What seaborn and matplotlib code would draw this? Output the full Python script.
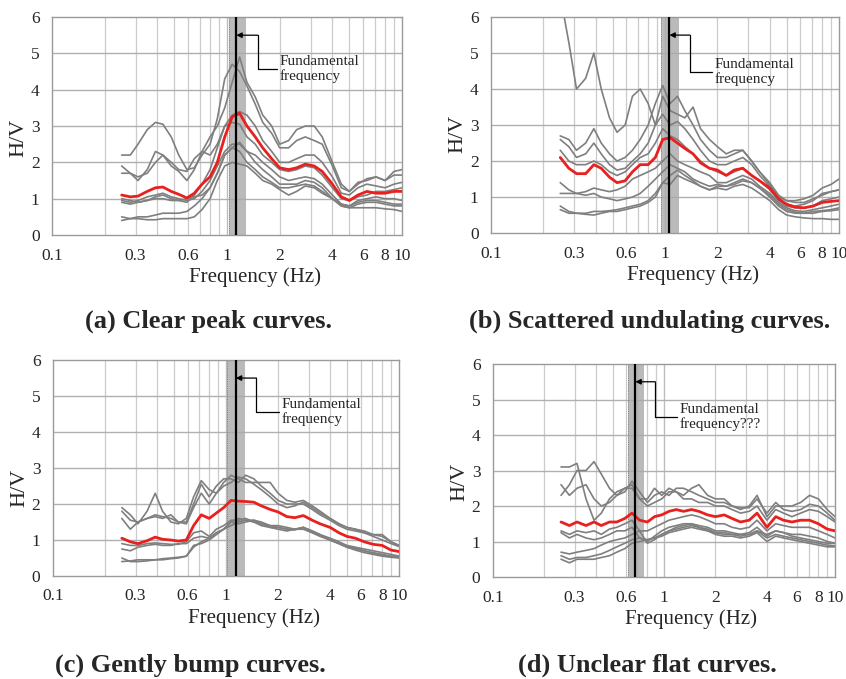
import numpy as np
import pandas as pd
import matplotlib
matplotlib.use("Agg")
import matplotlib.pyplot as plt
import seaborn as sns

sns.set_style("white")
plt.rcParams['font.family'] = ['Liberation Serif', 'DejaVu Serif']

freq = [0.25, 0.28, 0.31, 0.35, 0.39, 0.43, 0.48, 0.53, 0.59, 0.65, 0.72, 0.8, 0.88, 0.97,
        1.07, 1.18, 1.3, 1.45, 1.6, 1.8, 2.0, 2.25, 2.5, 2.8, 3.15, 3.5, 4.0, 4.5, 5.0, 5.6,
        6.3, 7.1, 8.0, 9.0, 10.0]

# ---- Panel (a) Clear peak curves
a_mean = [1.1, 1.05, 1.07, 1.2, 1.3, 1.32, 1.2, 1.12, 1.02, 1.15, 1.4, 1.6, 2.0, 2.7, 3.25, 3.35, 3.0, 2.7, 2.4, 2.1, 1.85, 1.8, 1.85, 1.95, 1.9, 1.75, 1.4, 1.05, 0.95, 1.1, 1.2, 1.15, 1.15, 1.2, 1.2]
a_g1 = [2.2, 2.2, 2.5, 2.9, 3.1, 3.05, 2.7, 2.2, 1.8, 1.85, 2.2, 2.5, 3.2, 4.3, 4.7, 4.5, 4.1, 3.6, 3.1, 2.8, 2.4, 2.4, 2.6, 2.7, 2.6, 2.5, 1.9, 1.3, 1.2, 1.4, 1.55, 1.6, 1.5, 1.75, 1.8]
a_g2 = [1.9, 1.7, 1.5, 1.8, 2.3, 2.2, 1.9, 1.75, 1.5, 1.8, 2.3, 2.7, 3.0, 3.5, 4.2, 4.9, 4.2, 3.8, 3.3, 3.0, 2.5, 2.6, 2.9, 3.0, 3.0, 2.7, 2.0, 1.4, 1.2, 1.45, 1.5, 1.6, 1.5, 1.65, 1.65]
a_g3 = [1.7, 1.7, 1.6, 1.7, 2.0, 2.2, 2.0, 1.8, 1.75, 2.1, 2.3, 2.2, 2.5, 3.0, 3.1, 3.05, 2.7, 2.5, 2.2, 2.0, 1.8, 1.75, 1.8, 1.9, 1.85, 1.65, 1.3, 1.0, 0.95, 1.05, 1.1, 1.2, 1.2, 1.25, 1.3]
a_g4 = [0.95, 0.9, 0.95, 1.05, 1.1, 1.15, 1.05, 1.0, 0.95, 1.0, 1.2, 1.5, 1.9, 2.3, 2.5, 2.5, 2.3, 2.2, 2.0, 1.8, 1.6, 1.5, 1.55, 1.6, 1.55, 1.4, 1.1, 0.85, 0.8, 0.95, 1.0, 1.05, 1.0, 1.0, 0.95]
a_g5 = [0.9, 0.85, 0.9, 0.95, 1.0, 1.0, 0.95, 0.95, 1.0, 1.05, 1.1, 1.3, 1.7, 2.2, 2.4, 2.55, 2.3, 2.0, 1.8, 1.6, 1.4, 1.4, 1.4, 1.5, 1.45, 1.3, 1.0, 0.8, 0.75, 0.85, 0.9, 0.9, 0.85, 0.8, 0.8]
a_g6 = [0.5, 0.45, 0.5, 0.5, 0.55, 0.6, 0.6, 0.6, 0.65, 0.8, 1.0, 1.3, 1.7, 2.2, 2.4, 2.3, 2.0, 1.8, 1.6, 1.45, 1.3, 1.3, 1.35, 1.4, 1.35, 1.2, 1.0, 0.8, 0.75, 0.75, 0.75, 0.75, 0.72, 0.7, 0.65]
a_g7 = [0.4, 0.45, 0.45, 0.42, 0.42, 0.45, 0.45, 0.45, 0.45, 0.5, 0.7, 1.0, 1.5, 1.9, 2.0, 1.95, 1.9, 1.7, 1.5, 1.4, 1.25, 1.1, 1.2, 1.35, 1.3, 1.15, 1.0, 0.85, 0.8, 0.9, 0.95, 0.95, 0.9, 0.85, 0.85]
a_g8 = [1.0, 0.95, 0.9, 0.95, 1.05, 1.1, 1.0, 0.95, 0.9, 1.1, 1.4, 1.8, 2.4, 3.0, 3.3, 3.4, 3.3, 3.0, 2.6, 2.3, 2.0, 2.0, 2.1, 2.2, 2.2, 2.0, 1.6, 1.15, 1.1, 1.3, 1.4, 1.35, 1.3, 1.4, 1.45]

# ---- Panel (b) Scattered undulating curves
b_mean = [2.1, 1.8, 1.65, 1.65, 1.9, 1.8, 1.55, 1.4, 1.45, 1.7, 1.9, 1.9, 2.1, 2.6, 2.65, 2.5, 2.35, 2.2, 1.95, 1.8, 1.75, 1.6, 1.75, 1.8, 1.6, 1.45, 1.25, 0.95, 0.8, 0.72, 0.7, 0.75, 0.85, 0.88, 0.9]
b_g1 = [6.6, 5.3, 4.0, 4.3, 5.0, 4.0, 3.2, 2.8, 3.0, 3.8, 4.0, 3.6, 3.0, 3.8, 3.4, 3.3, 3.2, 3.5, 2.9, 2.6, 2.4, 2.2, 2.3, 2.3, 2.0, 1.7, 1.35, 1.0, 0.9, 0.85, 0.85, 0.95, 1.05, 1.15, 1.2]
b_g2 = [2.7, 2.6, 2.3, 2.5, 2.9, 2.5, 2.2, 2.0, 2.1, 2.3, 2.6, 3.0, 3.6, 4.1, 3.6, 3.8, 3.4, 3.0, 2.6, 2.3, 2.1, 2.1, 2.2, 2.3, 2.0, 1.7, 1.4, 1.05, 0.9, 0.9, 0.95, 1.05, 1.25, 1.35, 1.5]
b_g3 = [2.6, 2.4, 2.1, 2.2, 2.5, 2.2, 1.9, 1.75, 1.8, 2.0, 2.2, 2.5, 3.0, 3.3, 3.0, 3.1, 2.9, 2.6, 2.3, 2.0, 1.9, 1.9, 2.0, 2.1, 1.9, 1.6, 1.3, 0.95, 0.8, 0.75, 0.8, 0.9, 1.1, 1.15, 1.2]
b_g4 = [2.3, 2.0, 1.9, 1.9, 2.0, 1.9, 1.7, 1.6, 1.7, 1.9, 2.1, 2.2, 2.5, 2.9, 2.7, 2.6, 2.4, 2.2, 2.0, 1.8, 1.7, 1.6, 1.7, 1.8, 1.6, 1.45, 1.2, 0.9, 0.75, 0.7, 0.7, 0.75, 0.9, 0.95, 1.0]
b_g5 = [1.4, 1.2, 1.1, 1.15, 1.25, 1.2, 1.15, 1.2, 1.3, 1.5, 1.6, 1.7, 1.8, 2.0, 2.2, 2.0, 1.9, 1.8, 1.7, 1.6, 1.4, 1.4, 1.5, 1.6, 1.5, 1.3, 1.1, 0.85, 0.7, 0.62, 0.6, 0.65, 0.7, 0.75, 0.8]
b_g6 = [1.1, 1.1, 1.1, 1.05, 1.1, 1.0, 0.95, 0.9, 0.95, 1.0, 1.1, 1.3, 1.5, 1.7, 1.9, 1.8, 1.7, 1.5, 1.4, 1.3, 1.35, 1.3, 1.35, 1.45, 1.4, 1.25, 1.05, 0.8, 0.65, 0.58, 0.55, 0.6, 0.62, 0.65, 0.7]
b_g7 = [0.75, 0.6, 0.55, 0.55, 0.6, 0.6, 0.62, 0.65, 0.7, 0.75, 0.8, 0.9, 1.1, 1.4, 1.6, 1.75, 1.6, 1.45, 1.3, 1.2, 1.3, 1.3, 1.4, 1.5, 1.4, 1.25, 1.0, 0.75, 0.6, 0.55, 0.55, 0.55, 0.6, 0.62, 0.65]
b_g8 = [0.65, 0.55, 0.55, 0.52, 0.5, 0.55, 0.6, 0.6, 0.65, 0.7, 0.75, 0.85, 1.0, 1.4, 1.35, 1.6, 1.5, 1.4, 1.3, 1.2, 1.25, 1.2, 1.3, 1.35, 1.25, 1.1, 0.9, 0.65, 0.5, 0.45, 0.42, 0.4, 0.4, 0.38, 0.38]

# ---- Panel (c) Gently bump curves
c_mean = [1.05, 0.95, 0.9, 0.98, 1.08, 1.02, 1.0, 0.97, 1.0, 1.4, 1.7, 1.6, 1.75, 1.9, 2.1, 2.08, 2.07, 2.05, 1.95, 1.85, 1.78, 1.65, 1.62, 1.68, 1.55, 1.45, 1.35, 1.2, 1.1, 1.05, 0.95, 0.88, 0.85, 0.72, 0.68]
c_g1 = [1.9, 1.7, 1.45, 1.8, 2.3, 1.8, 1.5, 1.45, 1.6, 2.2, 2.65, 2.4, 2.3, 2.6, 2.8, 2.7, 2.6, 2.6, 2.6, 2.6, 2.3, 2.1, 2.05, 2.1, 1.95, 1.8, 1.6, 1.45, 1.35, 1.3, 1.25, 1.15, 1.15, 0.95, 0.85]
c_g2 = [1.8, 1.55, 1.5, 1.6, 1.65, 1.6, 1.7, 1.5, 1.5, 2.0, 2.55, 2.2, 2.5, 2.7, 2.7, 2.6, 2.8, 2.7, 2.5, 2.3, 2.1, 2.0, 2.0, 2.0, 1.85, 1.7, 1.55, 1.4, 1.3, 1.25, 1.2, 1.1, 1.0, 0.9, 0.82]
c_g3 = [1.6, 1.3, 1.5, 1.6, 1.7, 1.65, 1.6, 1.5, 1.45, 1.9, 2.3, 2.0, 2.3, 2.5, 2.6, 2.75, 2.7, 2.55, 2.4, 2.2, 2.0, 1.9, 1.95, 2.05, 1.9, 1.75, 1.6, 1.45, 1.35, 1.3, 1.2, 1.15, 1.1, 0.95, 0.85]
c_g4 = [0.9, 0.85, 0.85, 0.9, 0.92, 0.9, 0.88, 0.88, 0.95, 1.2, 1.25, 1.1, 1.3, 1.4, 1.55, 1.55, 1.6, 1.5, 1.45, 1.4, 1.4, 1.35, 1.3, 1.35, 1.25, 1.15, 1.05, 0.95, 0.85, 0.8, 0.75, 0.7, 0.65, 0.6, 0.55]
c_g5 = [0.75, 0.7, 0.8, 0.85, 0.88, 0.85, 0.85, 0.9, 0.9, 1.05, 1.1, 1.05, 1.2, 1.3, 1.5, 1.45, 1.5, 1.55, 1.45, 1.35, 1.35, 1.3, 1.28, 1.35, 1.22, 1.12, 1.0, 0.9, 0.8, 0.75, 0.7, 0.65, 0.6, 0.55, 0.52]
c_g6 = [0.5, 0.4, 0.4, 0.42, 0.45, 0.45, 0.48, 0.5, 0.55, 0.8, 0.95, 1.05, 1.2, 1.3, 1.5, 1.6, 1.55, 1.5, 1.4, 1.35, 1.3, 1.25, 1.3, 1.35, 1.25, 1.15, 1.0, 0.9, 0.8, 0.72, 0.65, 0.6, 0.55, 0.52, 0.5]
c_g7 = [0.4, 0.42, 0.45, 0.45, 0.45, 0.48, 0.5, 0.52, 0.55, 0.85, 0.9, 1.0, 1.15, 1.3, 1.4, 1.5, 1.55, 1.55, 1.5, 1.4, 1.35, 1.3, 1.3, 1.3, 1.2, 1.1, 1.0, 0.9, 0.82, 0.78, 0.7, 0.62, 0.58, 0.55, 0.55]

# ---- Panel (d) Unclear flat curves
d_mean = [1.55, 1.45, 1.55, 1.45, 1.55, 1.45, 1.55, 1.55, 1.65, 1.8, 1.6, 1.55, 1.7, 1.75, 1.85, 1.9, 1.85, 1.9, 1.85, 1.75, 1.7, 1.75, 1.65, 1.55, 1.6, 1.8, 1.4, 1.7, 1.6, 1.55, 1.6, 1.6, 1.5, 1.35, 1.3]
d_g1 = [3.1, 3.1, 3.2, 2.2, 1.6, 1.8, 2.2, 2.4, 2.5, 2.6, 2.2, 2.2, 2.5, 2.3, 2.5, 2.4, 2.3, 2.5, 2.6, 2.3, 2.2, 2.2, 2.0, 1.9, 2.0, 2.3, 1.7, 2.0, 2.0, 2.0, 2.1, 2.3, 2.2, 1.9, 1.7]
d_g2 = [2.3, 2.6, 3.0, 3.0, 3.25, 2.9, 2.5, 2.3, 2.4, 2.7, 2.4, 2.1, 2.3, 2.4, 2.3, 2.5, 2.5, 2.4, 2.3, 2.2, 2.1, 2.1, 2.0, 1.95, 1.95, 2.2, 1.8, 2.1, 1.9, 1.85, 1.9, 2.05, 2.0, 1.8, 1.6]
d_g3 = [2.6, 2.3, 2.5, 2.6, 2.2, 2.0, 2.1, 2.3, 2.5, 2.5, 2.2, 2.0, 2.1, 2.2, 2.4, 2.4, 2.2, 2.2, 2.1, 2.1, 2.0, 2.0, 1.9, 1.8, 1.85, 2.0, 1.6, 1.9, 1.8, 1.7, 1.8, 1.9, 1.85, 1.7, 1.55]
d_g4 = [1.3, 1.2, 1.3, 1.25, 1.3, 1.2, 1.35, 1.4, 1.5, 1.6, 1.3, 1.3, 1.4, 1.5, 1.6, 1.65, 1.7, 1.75, 1.7, 1.6, 1.5, 1.5, 1.4, 1.35, 1.4, 1.6, 1.3, 1.5, 1.45, 1.4, 1.4, 1.4, 1.3, 1.2, 1.1]
d_g5 = [1.25, 1.1, 1.2, 1.1, 1.05, 1.1, 1.2, 1.3, 1.3, 1.4, 1.1, 1.0, 1.15, 1.3, 1.4, 1.45, 1.5, 1.5, 1.45, 1.4, 1.3, 1.3, 1.25, 1.2, 1.25, 1.4, 1.15, 1.3, 1.25, 1.2, 1.2, 1.15, 1.1, 1.0, 0.95]
d_g6 = [0.7, 0.65, 0.7, 0.75, 0.8, 0.9, 1.0, 1.05, 1.1, 1.2, 1.3, 0.95, 1.05, 1.2, 1.3, 1.4, 1.45, 1.5, 1.4, 1.35, 1.25, 1.2, 1.2, 1.15, 1.2, 1.3, 1.1, 1.2, 1.15, 1.1, 1.05, 1.0, 0.95, 0.9, 0.88]
d_g7 = [0.6, 0.5, 0.55, 0.55, 0.6, 0.65, 0.75, 0.85, 0.95, 1.05, 1.1, 1.05, 1.1, 1.2, 1.3, 1.35, 1.4, 1.45, 1.4, 1.3, 1.25, 1.25, 1.2, 1.2, 1.2, 1.3, 1.2, 1.3, 1.25, 1.15, 1.1, 1.05, 1.0, 0.95, 0.95]
d_g8 = [0.5, 0.4, 0.5, 0.5, 0.5, 0.55, 0.6, 0.7, 0.8, 0.95, 1.0, 1.05, 1.1, 1.15, 1.25, 1.3, 1.35, 1.4, 1.35, 1.3, 1.2, 1.15, 1.15, 1.1, 1.15, 1.25, 1.0, 1.15, 1.1, 1.05, 1.0, 0.95, 0.9, 0.85, 0.85]

# fundamental frequency marker: line, band low, band high
fund_a = [1.13, 1.02, 1.28]
fund_b = [1.06, 0.95, 1.20]
fund_c = [1.14, 1.02, 1.29]
fund_d = [0.68, 0.62, 0.76]

captions = ["(a) Clear peak curves.", "(b) Scattered undulating curves.",
            "(c) Gently bump curves.", "(d) Unclear flat curves."]
notes = ["Fundamental\nfrequency", "Fundamental\nfrequency",
         "Fundamental\nfrequency", "Fundamental\nfrequency???"]
xticks = [0.1, 0.3, 0.6, 1, 2, 4, 6, 8, 10]
xticklabels = ["0.1", "0.3", "0.6", "1", "2", "4", "6", "8", "10"]

panels = [
    dict(mean=a_mean, grays=[a_g1, a_g2, a_g3, a_g4, a_g5, a_g6, a_g7, a_g8], fund=fund_a,
         pos=[0.0615, 0.6539, 0.4137, 0.321], brk=1.50, txt=2.0, ylow=4.57,
         cap=(0.246, 0.517), ylab=0.445),
    dict(mean=b_mean, grays=[b_g1, b_g2, b_g3, b_g4, b_g5, b_g6, b_g7, b_g8], fund=fund_b,
         pos=[0.5804, 0.6568, 0.4113, 0.318], brk=1.39, txt=1.93, ylow=4.48,
         cap=(0.768, 0.517), ylab=0.46),
    dict(mean=c_mean, grays=[c_g1, c_g2, c_g3, c_g4, c_g5, c_g6, c_g7], fund=fund_c,
         pos=[0.0626, 0.1517, 0.409, 0.318], brk=1.50, txt=2.1, ylow=4.56,
         cap=(0.225, 0.0103), ylab=0.41),
    dict(mean=d_mean, grays=[d_g1, d_g2, d_g3, d_g4, d_g5, d_g6, d_g7, d_g8], fund=fund_d,
         pos=[0.5827, 0.1502, 0.4043, 0.3137], brk=0.89, txt=1.236, ylow=4.5,
         cap=(0.765, 0.0103), ylab=0.446),
]

fig = plt.figure(figsize=(8.46, 6.79), dpi=100)

for i, p in enumerate(panels):
    ax = fig.add_axes(p["pos"])
    rows = []
    for k, g in enumerate(p["grays"]):
        for f, v in zip(freq, g):
            rows.append((f, v, k))
    df = pd.DataFrame(rows, columns=["freq", "hv", "curve"])
    ax.set_xscale("log")
    # grid
    minor = [m * 10.0 ** e for e in (-1, 0) for m in range(2, 10)]
    for x in minor:
        ax.axvline(x, color="#cbcbcb", lw=0.9, zorder=0)
    ax.axvline(1.0, color="#bdbdbd", lw=1.0, zorder=0)
    for y in range(1, 6):
        ax.axhline(y, color="#b0b0b0", lw=1.0, zorder=0)
    # band & fundamental line
    fl, lo, hi = p["fund"]
    ax.axvspan(lo, hi, color="#a9a9a9", alpha=0.8, lw=0, zorder=1)
    ax.axvline(lo, color="#6f6f6f", lw=0.6, ls=":", zorder=1)
    sns.lineplot(data=df, x="freq", y="hv", units="curve", estimator=None,
                 color="#7f7f7f", lw=1.2, ax=ax, zorder=2, legend=False)
    sns.lineplot(x=freq, y=p["mean"], color="#e8201e", lw=2.0, ax=ax, zorder=3)
    ax.axvline(fl, color="black", lw=1.6, zorder=4)
    ax.set_xlim(0.1, 10)
    ax.set_ylim(0, 6)
    ax.set_xticks(xticks)
    ax.set_xticklabels(xticklabels)
    ax.minorticks_off()
    ax.set_yticks(range(0, 7))
    ax.tick_params(axis="x", labelsize=12.5, length=0, pad=9)
    ax.tick_params(axis="y", labelsize=12.5, length=0, pad=9)
    ax.set_xlabel("Frequency (Hz)", fontsize=15)
    ax.xaxis.set_label_coords(0.58, -0.15)
    ax.set_ylabel("H/V", fontsize=16)
    ax.yaxis.set_label_coords(-0.068, p["ylab"])
    for s in ax.spines.values():
        s.set_color("#9a9a9a")
        s.set_linewidth(1.0)
    # annotation
    ax.annotate("", xy=(fl, 5.5), xytext=(p["brk"], 5.5),
                arrowprops=dict(arrowstyle="-|>", color="black", lw=0.9,
                                mutation_scale=8, shrinkA=0, shrinkB=0), zorder=5)
    ax.plot([p["brk"], p["brk"], p["txt"] * 0.97], [5.5, p["ylow"], p["ylow"]],
            color="black", lw=0.9, zorder=5)
    ax.text(p["txt"], p["ylow"], notes[i],
            fontsize=11, va="center", ha="left", linespacing=1.15, zorder=6)
    fig.text(p["cap"][0], p["cap"][1], captions[i], fontsize=19, fontweight="bold",
             ha="center", va="baseline")

fig.savefig("out.png", dpi=100)
